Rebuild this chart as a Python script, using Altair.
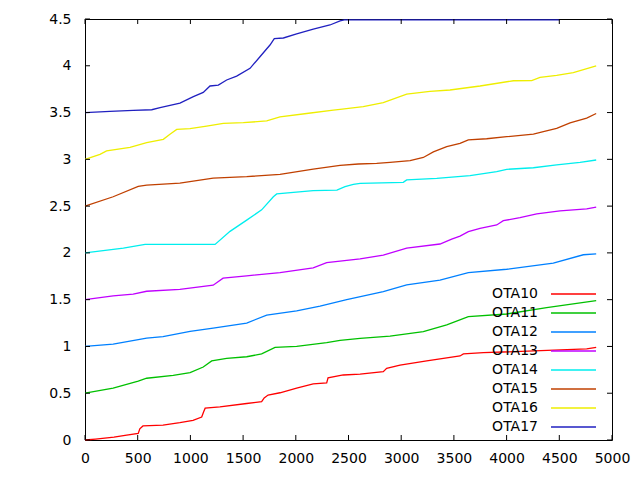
import altair as alt
import pandas as pd

names = ["OTA10", "OTA11", "OTA12", "OTA13", "OTA14", "OTA15", "OTA16", "OTA17"]
colors = ["#ff0000", "#00c000", "#0080ff", "#c000ff", "#00eeee", "#c04000", "#eeee00", "#2020c0"]

x10 = [0, 100, 275, 380, 505, 520, 550, 740, 900, 1025, 1107, 1125, 1140, 1280, 1534, 1676, 1700, 1737, 1850, 2008, 2165, 2293, 2306, 2450, 2610, 2830, 2862, 2989, 3242, 3558, 3590, 3780, 4760, 4850]
y10 = [0.0, 0.01, 0.03, 0.05, 0.07, 0.12, 0.15, 0.16, 0.185, 0.21, 0.245, 0.30, 0.34, 0.355, 0.39, 0.41, 0.45, 0.48, 0.505, 0.555, 0.60, 0.61, 0.665, 0.695, 0.705, 0.73, 0.766, 0.80, 0.845, 0.898, 0.92, 0.933, 0.973, 0.99]

x11 = [0, 267, 505, 585, 837, 997, 1122, 1202, 1344, 1534, 1676, 1803, 2008, 2293, 2420, 2610, 2894, 3210, 3432, 3637, 4001, 4380, 4850]
y11 = [0.50, 0.555, 0.63, 0.66, 0.69, 0.72, 0.78, 0.845, 0.873, 0.89, 0.92, 0.99, 1.00, 1.04, 1.065, 1.087, 1.11, 1.158, 1.23, 1.318, 1.347, 1.414, 1.49]

x12 = [0, 267, 585, 740, 997, 1216, 1534, 1724, 2008, 2230, 2483, 2830, 3052, 3368, 3637, 4001, 4443, 4728, 4850]
y12 = [1.0, 1.025, 1.09, 1.105, 1.16, 1.195, 1.25, 1.335, 1.38, 1.43, 1.50, 1.585, 1.657, 1.71, 1.79, 1.825, 1.89, 1.98, 1.99]

x13 = [0, 267, 457, 585, 900, 1216, 1310, 1534, 1850, 2165, 2293, 2420, 2610, 2830, 3052, 3368, 3479, 3558, 3637, 3748, 3906, 3969, 4127, 4286, 4507, 4760, 4850]
y13 = [1.50, 1.54, 1.56, 1.59, 1.61, 1.655, 1.73, 1.755, 1.79, 1.84, 1.895, 1.913, 1.935, 1.977, 2.05, 2.095, 2.148, 2.18, 2.227, 2.263, 2.298, 2.344, 2.376, 2.416, 2.45, 2.47, 2.49]

x14 = [0, 364, 570, 1234, 1376, 1534, 1676, 1787, 1819, 2165, 2390, 2467, 2546, 2610, 3020, 3052, 3337, 3653, 3906, 4001, 4254, 4475, 4697, 4850]
y14 = [2.0, 2.05, 2.09, 2.09, 2.23, 2.35, 2.46, 2.60, 2.63, 2.665, 2.67, 2.708, 2.733, 2.744, 2.754, 2.78, 2.797, 2.825, 2.868, 2.893, 2.91, 2.94, 2.968, 2.993]

x15 = [0, 267, 505, 585, 900, 1216, 1534, 1850, 2165, 2420, 2593, 2767, 2894, 3084, 3210, 3305, 3432, 3558, 3637, 3811, 4001, 4254, 4349, 4475, 4602, 4760, 4850]
y15 = [2.50, 2.60, 2.71, 2.725, 2.745, 2.80, 2.815, 2.84, 2.895, 2.936, 2.95, 2.957, 2.968, 2.986, 3.02, 3.08, 3.135, 3.17, 3.207, 3.22, 3.242, 3.27, 3.295, 3.33, 3.39, 3.44, 3.49]

x16 = [0, 142, 205, 427, 585, 743, 806, 870, 996, 1154, 1312, 1502, 1724, 1850, 2103, 2356, 2420, 2640, 2830, 3052, 3273, 3463, 3748, 4064, 4238, 4317, 4475, 4633, 4850]
y16 = [3.0, 3.054, 3.09, 3.128, 3.178, 3.214, 3.268, 3.32, 3.328, 3.356, 3.385, 3.392, 3.41, 3.455, 3.49, 3.527, 3.535, 3.563, 3.605, 3.698, 3.727, 3.741, 3.784, 3.84, 3.842, 3.877, 3.898, 3.926, 3.998]

x17 = [0, 237, 458, 633, 712, 901, 1028, 1122, 1186, 1265, 1344, 1439, 1566, 1660, 1755, 1796, 1882, 2008, 2166, 2324, 2420, 2460, 4500]
y17 = [3.50, 3.513, 3.524, 3.53, 3.552, 3.60, 3.67, 3.716, 3.784, 3.794, 3.848, 3.89, 3.973, 4.097, 4.222, 4.29, 4.297, 4.34, 4.393, 4.436, 4.48, 4.49, 4.49]

x_ticks = [0, 500, 1000, 1500, 2000, 2500, 3000, 3500, 4000, 4500, 5000]
y_ticks = [0, 0.5, 1, 1.5, 2, 2.5, 3, 3.5, 4, 4.5]

xs = [x10, x11, x12, x13, x14, x15, x16, x17]
ys = [y10, y11, y12, y13, y14, y15, y16, y17]
rows = []
for n, xa, ya in zip(names, xs, ys):
    for a, b in zip(xa, ya):
        rows.append({"series": n, "x": a, "y": b})
df = pd.DataFrame(rows)
xt = pd.DataFrame({"t": x_ticks})
yt = pd.DataFrame({"v": y_ticks})
leg = pd.DataFrame({"series": names})

W, H = 527, 421
FONT = "DejaVu Sans"
xscale = alt.Scale(domain=[0, 5000], nice=False)
yscale = alt.Scale(domain=[0, 4.5], nice=False)
cscale = alt.Scale(domain=names, range=colors)
xaxis = alt.Axis(values=x_ticks, ticks=False, tickSize=0, domain=False, grid=False,
                 labelPadding=11, format="d", labelFlush=False)

lines = alt.Chart(df).mark_line(strokeWidth=1.3).encode(
    x=alt.X("x:Q", scale=xscale, title=None, axis=xaxis),
    y=alt.Y("y:Q", scale=yscale, title=None,
            axis=alt.Axis(values=y_ticks, ticks=False, tickSize=0, domain=False, grid=False,
                          labelPadding=14, format="~g")),
    color=alt.Color("series:N", scale=cscale, legend=None),
    detail="series:N",
)

tick_len = 5
xb = alt.Chart(xt).mark_rule(color="black", strokeWidth=1).encode(
    x=alt.X("t:Q", scale=xscale, title=None, axis=xaxis), y=alt.value(H), y2=alt.value(H - tick_len))
xtop = alt.Chart(xt).mark_rule(color="black", strokeWidth=1).encode(
    x=alt.X("t:Q", scale=xscale, title=None, axis=xaxis), y=alt.value(0), y2=alt.value(tick_len))
yl = alt.Chart(yt).mark_rule(color="black", strokeWidth=1).encode(
    y=alt.Y("v:Q", scale=yscale, axis=None), x=alt.value(0), x2=alt.value(tick_len))
yr = alt.Chart(yt).mark_rule(color="black", strokeWidth=1).encode(
    y=alt.Y("v:Q", scale=yscale, axis=None), x=alt.value(W), x2=alt.value(W - tick_len))

legy = alt.Y("series:N", scale=alt.Scale(type="point", domain=names, range=[275, 408], padding=0), axis=None)
leg_text = alt.Chart(leg).mark_text(align="right", baseline="middle", font=FONT, fontSize=14, color="black").encode(
    y=legy, x=alt.value(453), text="series:N")
leg_rule = alt.Chart(leg).mark_rule(strokeWidth=1.3).encode(
    y=legy, x=alt.value(466), x2=alt.value(511),
    color=alt.Color("series:N", scale=cscale, legend=None))

chart = alt.layer(lines, xb, xtop, yl, yr, leg_text, leg_rule).resolve_scale(
    y="independent"
).properties(
    width=W, height=H, autosize="none",
    padding={"left": 77, "top": 11, "right": 20, "bottom": 30},
    background="white",
).configure_view(stroke="black", strokeWidth=1).configure_axis(
    labelFont=FONT, labelFontSize=14, labelColor="black"
)

chart.save("out.html", embed_options={"renderer": "svg", "actions": False})
